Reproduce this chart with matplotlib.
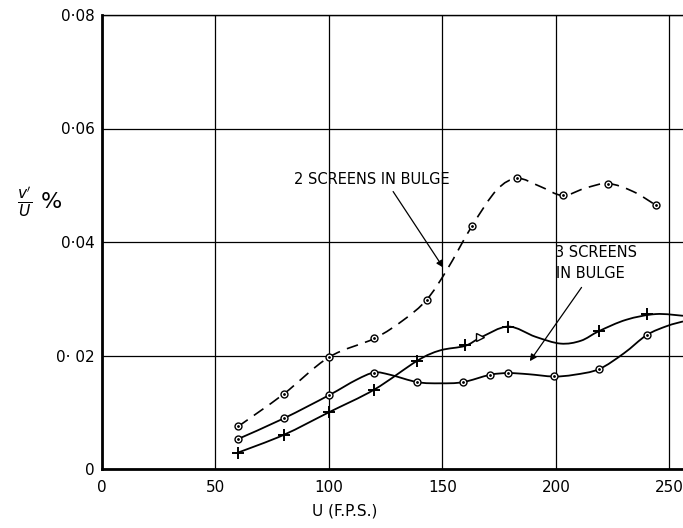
import numpy as np
import matplotlib.pyplot as plt
from matplotlib.path import Path
from matplotlib.patches import PathPatch

# two screens in bulge (dashed)
x2 = [60, 80, 100, 120, 143, 163, 183, 203, 223, 244]
y2 = [0.0075, 0.0132, 0.0197, 0.0230, 0.0298, 0.0428, 0.0512, 0.0482, 0.0503, 0.0465]
# dashed curve
c2_x = [60, 80, 100, 120, 133, 143, 152, 163, 174, 183, 193, 203, 213, 223, 234, 244]
c2_y = [0.0075, 0.0132, 0.0197, 0.0230, 0.0263, 0.0298, 0.0351, 0.0428, 0.0492, 0.0512,
        0.0498, 0.0482, 0.0495, 0.0503, 0.0489, 0.0465]

# three screens in bulge, circles
x3o = [60, 80, 100, 120, 139, 159, 171, 179, 199, 219, 240]
y3o = [0.0053, 0.0089, 0.0130, 0.0170, 0.0153, 0.0153, 0.0166, 0.0169, 0.0163, 0.0176, 0.0236]
c3o_x = [60, 80, 100, 112, 120, 127, 139, 149, 159, 171, 179, 188, 199, 208, 219, 230, 240, 249, 256]
c3o_y = [0.0053, 0.0089, 0.0130, 0.0157, 0.0170, 0.0166, 0.0153, 0.0151, 0.0153, 0.0166,
         0.0169, 0.0167, 0.0163, 0.0166, 0.0176, 0.0204, 0.0236, 0.0252, 0.0260]

# three screens in bulge, crosses
x3p = [60, 80, 100, 120, 139, 160, 179, 219, 240]
y3p = [0.0029, 0.0060, 0.0100, 0.0140, 0.0191, 0.0218, 0.0251, 0.0243, 0.0273]
x3t = [166.5]
y3t = [0.0232]
c3p_x = [60, 80, 100, 120, 139, 149, 160, 167, 179, 191, 202, 211, 219, 231, 244, 256]
c3p_y = [0.0029, 0.0060, 0.0100, 0.0140, 0.0191, 0.0209, 0.0217, 0.0232, 0.0251, 0.0233,
         0.0221, 0.0226, 0.0243, 0.0263, 0.0273, 0.0270]

xticks = [0, 50, 100, 150, 200, 250]
yticks = [0, 0.02, 0.04, 0.06, 0.08]
ytick_labels = ['0', '0\u00b7 02', '0\u00b704', '0\u00b706', '0\u00b708']


def smooth_path(xs, ys):
    # Catmull-Rom -> cubic bezier segments
    pts = np.column_stack([xs, ys])
    n = len(pts)
    verts = [pts[0]]
    codes = [Path.MOVETO]
    for i in range(n - 1):
        p0 = pts[max(i - 1, 0)]
        p1 = pts[i]
        p2 = pts[i + 1]
        p3 = pts[min(i + 2, n - 1)]
        verts += [p1 + (p2 - p0) / 6, p2 - (p3 - p1) / 6, p2]
        codes += [Path.CURVE4] * 3
    return Path(verts, codes)


fig = plt.figure(figsize=(6.83, 5.28), dpi=100)
ax = fig.add_axes([102 / 683, 59 / 528, 581 / 683, 454 / 528])
ax.set_xlim(0, 256)
ax.set_ylim(0, 0.08)

ax.set_xticks(xticks)
ax.set_yticks(yticks)
ax.set_yticklabels(ytick_labels)
ax.tick_params(length=0, labelsize=11)
ax.tick_params(axis='x', pad=8)
ax.tick_params(axis='y', pad=5)
ax.grid(True, color='black', linewidth=0.9)
ax.set_axisbelow(True)
ax.spines['right'].set_visible(False)
ax.spines['left'].set_linewidth(2)
ax.spines['bottom'].set_linewidth(2)
ax.spines['top'].set_linewidth(1)

ax.add_patch(PathPatch(smooth_path(c2_x, c2_y), fill=False, lw=1.2,
                       ls=(0, (7, 4.5)), color='black'))
ax.add_patch(PathPatch(smooth_path(c3o_x, c3o_y), fill=False, lw=1.3, color='black'))
ax.add_patch(PathPatch(smooth_path(c3p_x, c3p_y), fill=False, lw=1.3, color='black'))

for xs, ys in [(x2, y2), (x3o, y3o)]:
    ax.plot(xs, ys, 'o', ms=5, mfc='white', mec='black', mew=1, zorder=4)
    ax.plot(xs, ys, '.', ms=2, color='black', zorder=5)
ax.plot(x3p, y3p, '+', ms=9, mew=1.4, color='black', zorder=4)
ax.plot(x3t, y3t, '>', ms=6, mfc='white', mec='black', mew=1, zorder=4)

ax.text(119, 0.0511, '2 SCREENS IN BULGE', ha='center', va='center', fontsize=10.5)
ax.annotate('', xy=(151, 0.0351), xytext=(127.6, 0.0493),
            arrowprops=dict(arrowstyle='-|>', color='black', lw=0.9, mutation_scale=10))
ax.text(199.5, 0.0381, '3 SCREENS', ha='left', va='center', fontsize=10.5)
ax.text(200, 0.0345, 'IN BULGE', ha='left', va='center', fontsize=10.5)
ax.annotate('', xy=(187.8, 0.0186), xytext=(212, 0.0324),
            arrowprops=dict(arrowstyle='-|>', color='black', lw=0.9, mutation_scale=10))

ax.set_xlabel('U (F.P.S.)', fontsize=11)
ax.xaxis.set_label_coords((345 - 102) / 581, -0.075)
ax.set_ylabel(r"$\frac{v'}{U}$ %", fontsize=16, rotation=0, ha='center', va='center')
ax.yaxis.set_label_coords((40 - 102) / 581, (469 - 202) / 454)

fig.savefig('out.png', dpi=100)
